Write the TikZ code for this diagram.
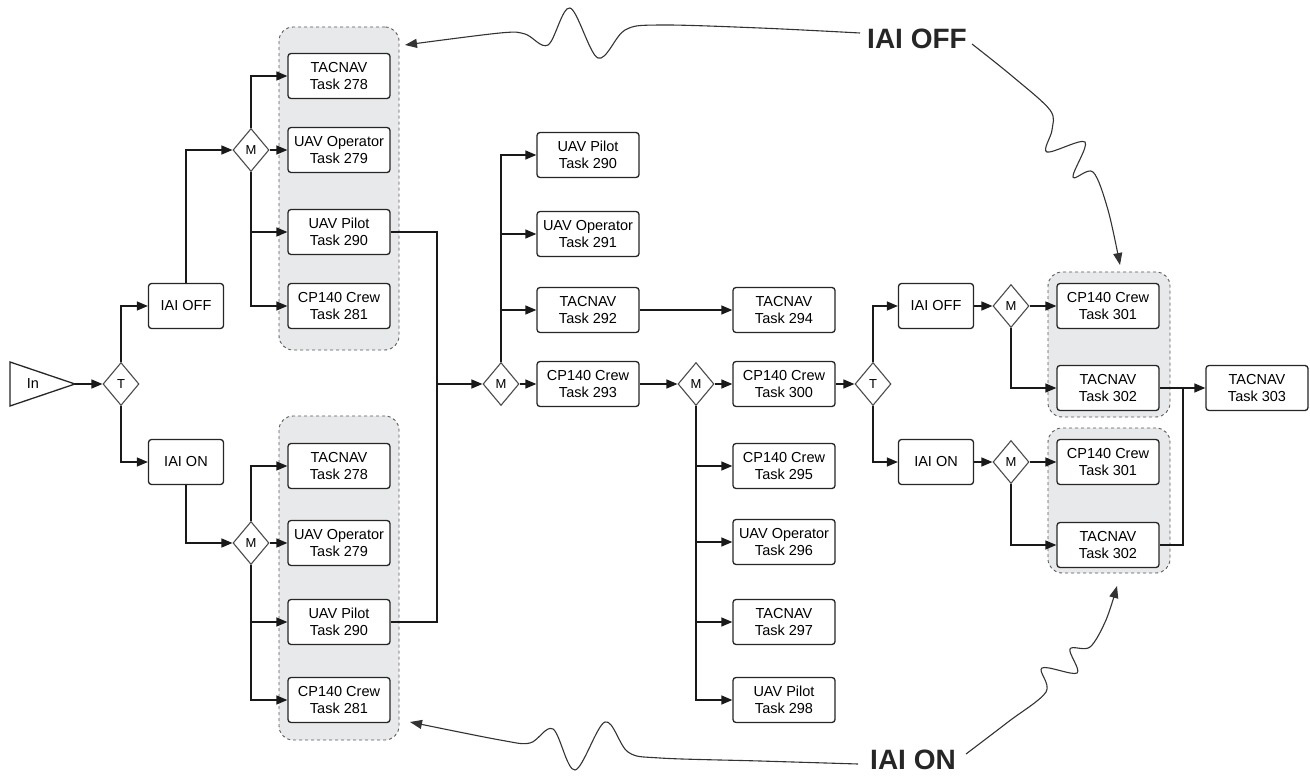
\documentclass[tikz,border=0pt]{standalone}
\usepackage{fontspec}
\setmainfont{Liberation Sans}
\usetikzlibrary{shapes.geometric,arrows.meta}
\definecolor{grpfill}{HTML}{E8E9EB}
\begin{document}
\begin{tikzpicture}[x=1pt,y=-1pt,
 task/.style={draw=black!85, line width=1.3pt, rounded corners=3pt, fill=white, minimum width=102pt, minimum height=45pt, inner sep=1pt, align=center, font=\fontsize{14.5}{17}\selectfont},
 sbox/.style={task, minimum width=75pt},
 dia/.style={diamond, draw=black!70, line width=1.1pt, fill=white, minimum width=36pt, minimum height=43pt, inner sep=0pt, aspect=0.84, font=\fontsize{13}{13}\selectfont},
 grp/.style={draw=black!65, dashed, line width=0.9pt, fill=grpfill, rounded corners=14pt, inner sep=0pt},
 arr/.style={line width=1.35pt, draw=black!90, -{Triangle[length=11pt,width=9pt]}},
 ln/.style={line width=1.35pt, draw=black!90},
 wave/.style={line width=1.1pt, draw=black!80, -{Triangle[length=12pt,width=9pt]}},
 lbl/.style={font=\fontsize{28}{28}\selectfont\bfseries, text=black!85}
]
\useasboundingbox (0,0) rectangle (1310,778);

% groups
\node[grp, minimum width=120pt, minimum height=323pt] (g1) at (339,188.5) {};
\node[grp, minimum width=120pt, minimum height=324pt] (g2) at (339,578) {};
\node[grp, minimum width=122pt, minimum height=145pt] (g3) at (1109,344.5) {};
\node[grp, minimum width=122pt, minimum height=145pt] (g4) at (1109,500.5) {};

% input
\draw[line width=1.3pt, draw=black!85, fill=white] (10,362) -- (75,384) -- (10,406) -- cycle;
\node[font=\fontsize{14.5}{17}\selectfont] (intext) at (33,384) {In};
\coordinate (in) at (75,384);
\node[dia] (t1) at (121,384) {T};

\node[sbox] (iaioff1) at (186,306) {IAI OFF};
\node[sbox] (iaion1) at (186,462) {IAI ON};
\node[dia] (m1) at (251,150) {M};
\node[dia] (m2) at (251,543) {M};

\node[task] (a278) at (339,76) {TACNAV\\Task 278};
\node[task] (a279) at (339,150) {UAV Operator\\Task 279};
\node[task] (a290) at (339,232) {UAV Pilot\\Task 290};
\node[task] (a281) at (339,306) {CP140 Crew\\Task 281};

\node[task] (b278) at (339,466) {TACNAV\\Task 278};
\node[task] (b279) at (339,543) {UAV Operator\\Task 279};
\node[task] (b290) at (339,622) {UAV Pilot\\Task 290};
\node[task] (b281) at (339,700) {CP140 Crew\\Task 281};

\coordinate (j1) at (437,384);
\node[dia] (mc) at (501,384) {M};
\node[task] (c290) at (588,155) {UAV Pilot\\Task 290};
\node[task] (c291) at (588,234) {UAV Operator\\Task 291};
\node[task] (c292) at (588,310) {TACNAV\\Task 292};
\node[task] (c293) at (588,384) {CP140 Crew\\Task 293};
\node[task] (c294) at (784,310) {TACNAV\\Task 294};

\node[dia] (md) at (696,384) {M};
\node[task] (c300) at (784,384) {CP140 Crew\\Task 300};
\node[task] (c295) at (784,466) {CP140 Crew\\Task 295};
\node[task] (c296) at (784,542) {UAV Operator\\Task 296};
\node[task] (c297) at (784,622) {TACNAV\\Task 297};
\node[task] (c298) at (784,700) {UAV Pilot\\Task 298};

\node[dia] (t2) at (873,384) {T};
\node[sbox] (iaioff2) at (936,306) {IAI OFF};
\node[sbox] (iaion2) at (936,462) {IAI ON};
\node[dia] (m3) at (1011,306) {M};
\node[dia] (m4) at (1011,462) {M};
\node[task] (d301) at (1108,306) {CP140 Crew\\Task 301};
\node[task] (d302) at (1108,388) {TACNAV\\Task 302};
\node[task] (e301) at (1108,462) {CP140 Crew\\Task 301};
\node[task] (e302) at (1108,545) {TACNAV\\Task 302};
\coordinate (j2) at (1183,388);
\node[task] (t303) at (1257,388) {TACNAV\\Task 303};

% connectors
\draw[arr] (in) -- (t1.west);
\draw[arr] (t1.north) |- (iaioff1.west);
\draw[arr] (t1.south) |- (iaion1.west);
\draw[arr] (iaioff1.north) |- (m1.west);
\draw[arr] (iaion1.south) |- (m2.west);

\draw[arr] (m1.north) |- (a278.west);
\draw[arr] (m1.east) -- (a279.west);
\draw[arr] (m1.south) |- (a290.west);
\draw[arr] (m1.south) |- (a281.west);

\draw[arr] (m2.north) |- (b278.west);
\draw[arr] (m2.east) -- (b279.west);
\draw[arr] (m2.south) |- (b290.west);
\draw[arr] (m2.south) |- (b281.west);

\draw[ln] (a290.east) -| (j1);
\draw[ln] (b290.east) -| (j1);
\draw[arr] (j1) -- (mc.west);

\draw[arr] (mc.north) |- (c290.west);
\draw[arr] (mc.north) |- (c291.west);
\draw[arr] (mc.north) |- (c292.west);
\draw[arr] (mc.east) -- (c293.west);
\draw[arr] (c292.east) -- (c294.west);

\draw[arr] (c293.east) -- (md.west);
\draw[arr] (md.east) -- (c300.west);
\draw[arr] (md.south) |- (c295.west);
\draw[arr] (md.south) |- (c296.west);
\draw[arr] (md.south) |- (c297.west);
\draw[arr] (md.south) |- (c298.west);

\draw[arr] (c300.east) -- (t2.west);
\draw[arr] (t2.north) |- (iaioff2.west);
\draw[arr] (t2.south) |- (iaion2.west);
\draw[arr] (iaioff2.east) -- (m3.west);
\draw[arr] (iaion2.east) -- (m4.west);
\draw[arr] (m3.east) -- (d301.west);
\draw[arr] (m3.south) |- (d302.west);
\draw[arr] (m4.east) -- (e301.west);
\draw[arr] (m4.south) |- (e302.west);
\draw[ln] (d302.east) -| (j2);
\draw[ln] (e302.east) -| (j2);
\draw[arr] (j2) -- (t303.west);

% labels and wavy arrows
\node[lbl] (offlbl) at (917,39) {IAI OFF};
\node[lbl] (onlbl) at (913,760) {IAI ON};

\draw[wave] plot[smooth, tension=0.55] coordinates {(860,33) (760,28) (660,25) (625,30) (598,58) (570,8) (548,45) (525,34) (500,33) (405,45)};
\draw[wave] plot[smooth, tension=0.55] coordinates {(972,44) (1012,76) (1050,110) (1052,130) (1047,152) (1085,142) (1073,177) (1093,172) (1108,210) (1120,265)};
\draw[wave] plot[smooth, tension=0.55] coordinates {(858,764) (760,761) (660,758) (628,752) (605,722) (575,770) (553,729) (530,743) (500,740) (410,722)};
\draw[wave] plot[smooth, tension=0.55] coordinates {(966,754) (1008,722) (1046,692) (1042,668) (1077,673) (1070,649) (1090,647) (1106,620) (1117,586)};
\end{tikzpicture}
\end{document}
